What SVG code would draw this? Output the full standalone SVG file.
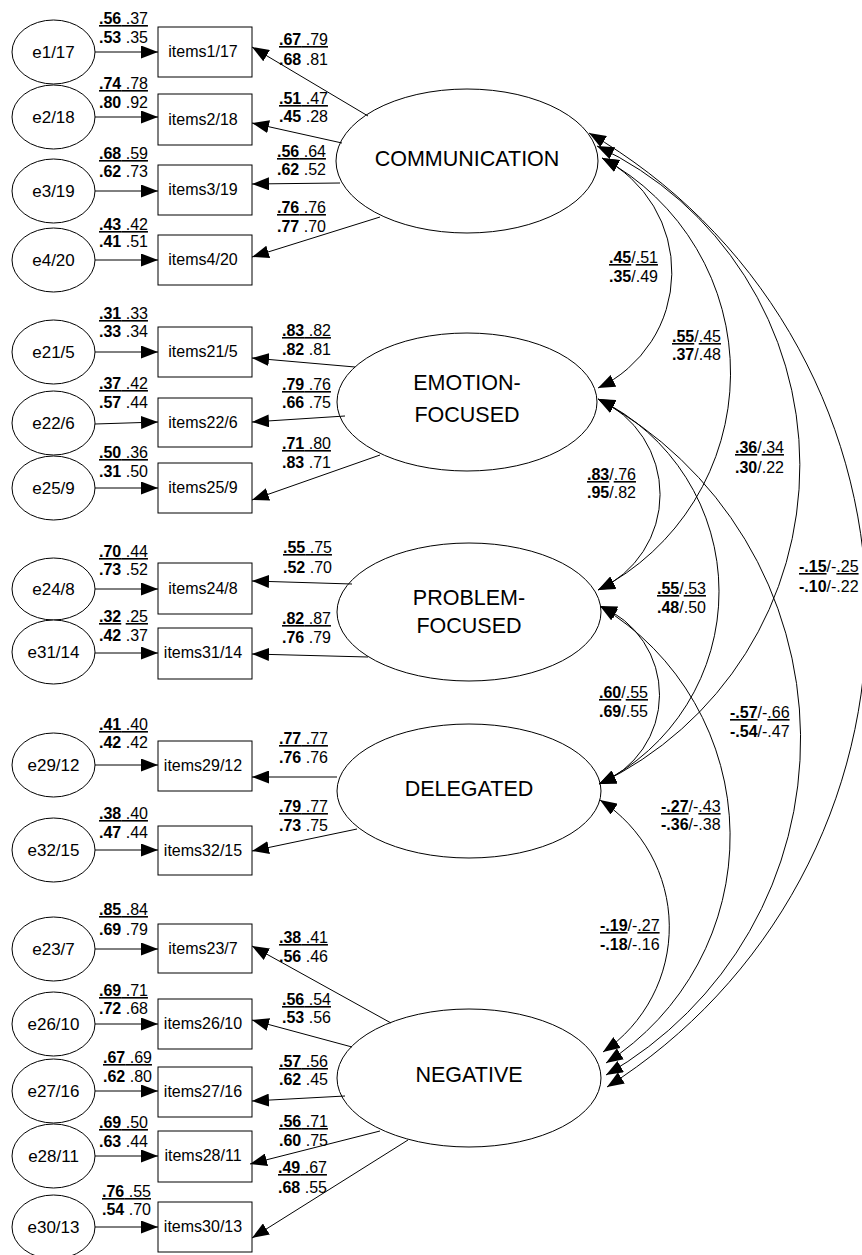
<svg xmlns="http://www.w3.org/2000/svg" width="862" height="1255" viewBox="0 0 862 1255">
<style>
.nd ellipse,.nd rect{fill:#fff;stroke:#000;stroke-width:1}
text{font-family:"Liberation Sans",Arial,sans-serif;fill:#000}
.lat{font-size:21.5px;text-anchor:middle}
.err{font-size:17px;text-anchor:middle}
.itm{font-size:16px;text-anchor:middle}
.c{font-size:16px}
.b{font-weight:bold}
.u{text-decoration:underline}
.ln{fill:none;stroke:#000;stroke-width:1}
.ar{marker-end:url(#ah)}
.cv{marker-start:url(#ah2);marker-end:url(#ah2)}
</style>
<defs>
<marker id="ah" viewBox="0 0 17 13" refX="17" refY="6.5" markerWidth="17" markerHeight="13" markerUnits="userSpaceOnUse" orient="auto"><path d="M0,0 L17,6.5 L0,13 z" fill="#000"/></marker>
<marker id="ah2" viewBox="0 0 17 13" refX="17" refY="6.5" markerWidth="17" markerHeight="13" markerUnits="userSpaceOnUse" orient="auto-start-reverse"><path d="M0,0 L17,6.5 L0,13 z" fill="#000"/></marker>
</defs>

<!-- error nodes -->
<g id="e1" class="nd"><ellipse cx="53.5" cy="52" rx="41.5" ry="32"/><text class="err" x="53.5" y="58">e1/17</text></g>
<g id="e2" class="nd"><ellipse cx="53.5" cy="117" rx="41.5" ry="32"/><text class="err" x="53.5" y="123">e2/18</text></g>
<g id="e3" class="nd"><ellipse cx="53.5" cy="191" rx="41.5" ry="32"/><text class="err" x="53.5" y="197">e3/19</text></g>
<g id="e4" class="nd"><ellipse cx="53.5" cy="260" rx="41.5" ry="32"/><text class="err" x="53.5" y="266">e4/20</text></g>
<g id="e21" class="nd"><ellipse cx="53.5" cy="352" rx="41.5" ry="32"/><text class="err" x="53.5" y="358">e21/5</text></g>
<g id="e22" class="nd"><ellipse cx="53.5" cy="423" rx="41.5" ry="32"/><text class="err" x="53.5" y="429">e22/6</text></g>
<g id="e25" class="nd"><ellipse cx="53.5" cy="488" rx="41.5" ry="32"/><text class="err" x="53.5" y="494">e25/9</text></g>
<g id="e24" class="nd"><ellipse cx="53.5" cy="589" rx="41.5" ry="31"/><text class="err" x="53.5" y="595">e24/8</text></g>
<g id="e31" class="nd"><ellipse cx="53.5" cy="652" rx="41.5" ry="32"/><text class="err" x="53.5" y="658">e31/14</text></g>
<g id="e29" class="nd"><ellipse cx="53.5" cy="765" rx="41.5" ry="32"/><text class="err" x="53.5" y="771">e29/12</text></g>
<g id="e32" class="nd"><ellipse cx="53.5" cy="850" rx="41.5" ry="32"/><text class="err" x="53.5" y="856">e32/15</text></g>
<g id="e23" class="nd"><ellipse cx="53.5" cy="949" rx="41.5" ry="32"/><text class="err" x="53.5" y="955">e23/7</text></g>
<g id="e26" class="nd"><ellipse cx="53.5" cy="1024" rx="41.5" ry="32"/><text class="err" x="53.5" y="1030">e26/10</text></g>
<g id="e27" class="nd"><ellipse cx="53.5" cy="1091" rx="41.5" ry="32"/><text class="err" x="53.5" y="1097">e27/16</text></g>
<g id="e28" class="nd"><ellipse cx="53.5" cy="1156" rx="41.5" ry="32"/><text class="err" x="53.5" y="1162">e28/11</text></g>
<g id="e30" class="nd"><ellipse cx="53.5" cy="1227" rx="41.5" ry="32"/><text class="err" x="53.5" y="1233">e30/13</text></g>

<!-- item nodes -->
<g id="i1" class="nd"><rect x="158" y="27" width="94" height="50"/><text class="itm" x="203" y="57">items1/17</text></g>
<g id="i2" class="nd"><rect x="158" y="94" width="94" height="51"/><text class="itm" x="203" y="125">items2/18</text></g>
<g id="i3" class="nd"><rect x="158" y="165" width="94" height="50"/><text class="itm" x="203" y="195">items3/19</text></g>
<g id="i4" class="nd"><rect x="158" y="235" width="94" height="50"/><text class="itm" x="203" y="265">items4/20</text></g>
<g id="i21" class="nd"><rect x="158" y="327" width="94" height="50"/><text class="itm" x="203" y="357">items21/5</text></g>
<g id="i22" class="nd"><rect x="158" y="398" width="94" height="49"/><text class="itm" x="203" y="428">items22/6</text></g>
<g id="i25" class="nd"><rect x="158" y="463" width="94" height="50"/><text class="itm" x="203" y="493">items25/9</text></g>
<g id="i24" class="nd"><rect x="158" y="563" width="94" height="51"/><text class="itm" x="203" y="594">items24/8</text></g>
<g id="i31" class="nd"><rect x="158" y="628" width="94" height="51"/><text class="itm" x="203" y="658">items31/14</text></g>
<g id="i29" class="nd"><rect x="158" y="741" width="94" height="50"/><text class="itm" x="203" y="771">items29/12</text></g>
<g id="i32" class="nd"><rect x="158" y="826" width="94" height="49"/><text class="itm" x="203" y="856">items32/15</text></g>
<g id="i23" class="nd"><rect x="158" y="924" width="94" height="49"/><text class="itm" x="203" y="954">items23/7</text></g>
<g id="i26" class="nd"><rect x="158" y="999" width="94" height="50"/><text class="itm" x="203" y="1029">items26/10</text></g>
<g id="i27" class="nd"><rect x="158" y="1067" width="94" height="50"/><text class="itm" x="203" y="1097">items27/16</text></g>
<g id="i28" class="nd"><rect x="158" y="1131" width="94" height="51"/><text class="itm" x="203" y="1161">items28/11</text></g>
<g id="i30" class="nd"><rect x="158" y="1202" width="94" height="50"/><text class="itm" x="203" y="1232">items30/13</text></g>

<!-- latent nodes -->
<g id="comm" class="nd"><ellipse cx="467" cy="161" rx="131" ry="72"/><text class="lat" x="467" y="166">COMMUNICATION</text></g>
<g id="emo" class="nd"><ellipse cx="467" cy="402" rx="130" ry="69"/><text class="lat" x="467" y="390">EMOTION-</text><text class="lat" x="467" y="422">FOCUSED</text></g>
<g id="prob" class="nd"><ellipse cx="469" cy="612" rx="132" ry="69"/><text class="lat" x="469" y="605">PROBLEM-</text><text class="lat" x="469" y="633">FOCUSED</text></g>
<g id="del" class="nd"><ellipse cx="469" cy="791" rx="132" ry="67"/><text class="lat" x="469" y="796">DELEGATED</text></g>
<g id="neg" class="nd"><ellipse cx="469" cy="1078" rx="132" ry="69"/><text class="lat" x="469" y="1082">NEGATIVE</text></g>

<!-- connectors -->
<g id="connectors" class="ln">
<path class="ar" d="M95 52H158"/>
<path class="ar" d="M95 117H158"/>
<path class="ar" d="M95 191H158"/>
<path class="ar" d="M95 260H158"/>
<path class="ar" d="M95 352H158"/>
<path class="ar" d="M95 424L158 422"/>
<path class="ar" d="M95 488H158"/>
<path class="ar" d="M95 589H158"/>
<path class="ar" d="M95 653H158"/>
<path class="ar" d="M95 765H158"/>
<path class="ar" d="M95 850H158"/>
<path class="ar" d="M95 949H158"/>
<path class="ar" d="M95 1024H158"/>
<path class="ar" d="M95 1091H158"/>
<path class="ar" d="M95 1156H158"/>
<path class="ar" d="M95 1227H158"/>

<path class="ar" d="M368 116L252 47"/>
<path class="ar" d="M342 143L252 123"/>
<path class="ar" d="M340 183L252 184"/>
<path class="ar" d="M380 217L252 257"/>
<path class="ar" d="M355 367L252 358"/>
<path class="ar" d="M345 416L252 422"/>
<path class="ar" d="M380 455L252 500"/>
<path class="ar" d="M352 584L252 581"/>
<path class="ar" d="M368 657L252 654"/>
<path class="ar" d="M337 777L252 777"/>
<path class="ar" d="M357 829L252 851"/>
<path class="ar" d="M391 1023L252 946"/>
<path class="ar" d="M352 1047L252 1020"/>
<path class="ar" d="M345 1096L252 1101"/>
<path class="ar" d="M380 1131L250 1164"/>
<path class="ar" d="M408 1140L252 1238"/>

<path class="cv" d="M602 158A128 128 0 0 1 598 388"/>
<path class="cv" d="M602 158A244 244 0 0 1 598 590"/>
<path class="cv" d="M597 146A353 353 0 0 1 599 784"/>
<path class="cv" d="M589 133A558 558 0 0 1 607 1087"/>
<path class="cv" d="M598 399A104.5 104.5 0 0 1 598 590"/>
<path class="cv" d="M598 399A214 214 0 0 1 599 784"/>
<path class="cv" d="M598 399A387 387 0 0 1 606 1075"/>
<path class="cv" d="M600 606A96 96 0 0 1 599 784"/>
<path class="cv" d="M600 606A269 269 0 0 1 606 1063"/>
<path class="cv" d="M600 800A151 151 0 0 1 603 1052"/>
</g>

<!-- coefficient labels -->
<g id="labels" class="c">
<text x="99" y="24" class="u"><tspan class="b">.56</tspan> .37</text><text x="99" y="43"><tspan class="b">.53</tspan> .35</text>
<text x="99" y="89" class="u"><tspan class="b">.74</tspan> .78</text><text x="99" y="108"><tspan class="b">.80</tspan> .92</text>
<text x="99" y="159" class="u"><tspan class="b">.68</tspan> .59</text><text x="99" y="177"><tspan class="b">.62</tspan> .73</text>
<text x="99" y="230" class="u"><tspan class="b">.43</tspan> .42</text><text x="99" y="247"><tspan class="b">.41</tspan> .51</text>
<text x="99" y="319" class="u"><tspan class="b">.31</tspan> .33</text><text x="99" y="337"><tspan class="b">.33</tspan> .34</text>
<text x="99" y="389" class="u"><tspan class="b">.37</tspan> .42</text><text x="99" y="408"><tspan class="b">.57</tspan> .44</text>
<text x="99" y="458" class="u"><tspan class="b">.50</tspan> .36</text><text x="99" y="477"><tspan class="b">.31</tspan> .50</text>
<text x="99" y="557" class="u"><tspan class="b">.70</tspan> .44</text><text x="99" y="575"><tspan class="b">.73</tspan> .52</text>
<text x="99" y="622"><tspan class="b u">.32</tspan> <tspan class="u">.25</tspan></text><text x="99" y="641"><tspan class="b">.42</tspan> .37</text>
<text x="99" y="730" class="u"><tspan class="b">.41</tspan> .40</text><text x="99" y="748"><tspan class="b">.42</tspan> .42</text>
<text x="99" y="819" class="u"><tspan class="b">.38</tspan> .40</text><text x="99" y="838"><tspan class="b">.47</tspan> .44</text>
<text x="99" y="915" class="u"><tspan class="b">.85</tspan> .84</text><text x="99" y="935"><tspan class="b">.69</tspan> .79</text>
<text x="99" y="996" class="u"><tspan class="b">.69</tspan> .71</text><text x="99" y="1014"><tspan class="b">.72</tspan> .68</text>
<text x="103" y="1063" class="u"><tspan class="b">.67</tspan> .69</text><text x="103" y="1082"><tspan class="b">.62</tspan> .80</text>
<text x="99" y="1128" class="u"><tspan class="b">.69</tspan> .50</text><text x="99" y="1147"><tspan class="b">.63</tspan> .44</text>
<text x="102" y="1197" class="u"><tspan class="b">.76</tspan> .55</text><text x="102" y="1215"><tspan class="b">.54</tspan> .70</text>

<text x="279" y="45" class="u"><tspan class="b">.67</tspan> .79</text><text x="279" y="65"><tspan class="b">.68</tspan> .81</text>
<text x="279" y="104" class="u"><tspan class="b">.51</tspan> .47</text><text x="279" y="122"><tspan class="b">.45</tspan> .28</text>
<text x="277" y="157" class="u"><tspan class="b">.56</tspan> .64</text><text x="277" y="175"><tspan class="b">.62</tspan> .52</text>
<text x="277" y="213" class="u"><tspan class="b">.76</tspan> .76</text><text x="277" y="232"><tspan class="b">.77</tspan> .70</text>
<text x="282" y="336" class="u"><tspan class="b">.83</tspan> .82</text><text x="282" y="355"><tspan class="b">.82</tspan> .81</text>
<text x="282" y="390" class="u"><tspan class="b">.79</tspan> .76</text><text x="282" y="408"><tspan class="b">.66</tspan> .75</text>
<text x="282" y="449" class="u"><tspan class="b">.71</tspan> .80</text><text x="282" y="468"><tspan class="b">.83</tspan> .71</text>
<text x="283" y="553" class="u"><tspan class="b">.55</tspan> .75</text><text x="283" y="573"><tspan class="b">.52</tspan> .70</text>
<text x="282" y="624" class="u"><tspan class="b">.82</tspan> .87</text><text x="282" y="643"><tspan class="b">.76</tspan> .79</text>
<text x="279" y="744" class="u"><tspan class="b">.77</tspan> .77</text><text x="279" y="763"><tspan class="b">.76</tspan> .76</text>
<text x="279" y="812" class="u"><tspan class="b">.79</tspan> .77</text><text x="279" y="831"><tspan class="b">.73</tspan> .75</text>
<text x="279" y="943" class="u"><tspan class="b">.38</tspan> .41</text><text x="279" y="962"><tspan class="b">.56</tspan> .46</text>
<text x="282" y="1005" class="u"><tspan class="b">.56</tspan> .54</text><text x="282" y="1023"><tspan class="b">.53</tspan> .56</text>
<text x="279" y="1067" class="u"><tspan class="b">.57</tspan> .56</text><text x="279" y="1085"><tspan class="b">.62</tspan> .45</text>
<text x="279" y="1127" class="u"><tspan class="b">.56</tspan> .71</text><text x="279" y="1146"><tspan class="b">.60</tspan> .75</text>
<text x="278" y="1173" class="u"><tspan class="b">.49</tspan> .67</text><text x="278" y="1193"><tspan class="b">.68</tspan> .55</text>

<text x="609" y="263"><tspan class="b u">.45</tspan>/<tspan class="u">.51</tspan></text><text x="609" y="282"><tspan class="b">.35</tspan>/.49</text>
<text x="672" y="342"><tspan class="b u">.55</tspan>/<tspan class="u">.45</tspan></text><text x="672" y="360"><tspan class="b">.37</tspan>/.48</text>
<text x="735" y="453"><tspan class="b u">.36</tspan>/<tspan class="u">.34</tspan></text><text x="735" y="473"><tspan class="b">.30</tspan>/.22</text>
<text x="587" y="480"><tspan class="b u">.83</tspan>/<tspan class="u">.76</tspan></text><text x="587" y="498"><tspan class="b">.95</tspan>/.82</text>
<text x="799" y="572"><tspan class="b u">-.15</tspan>/-<tspan class="u">.25</tspan></text><text x="799" y="592"><tspan class="b">-.10</tspan>/-.22</text>
<text x="657" y="594"><tspan class="b u">.55</tspan>/<tspan class="u">.53</tspan></text><text x="657" y="613"><tspan class="b">.48</tspan>/.50</text>
<text x="599" y="698"><tspan class="b u">.60</tspan>/<tspan class="u">.55</tspan></text><text x="599" y="717"><tspan class="b">.69</tspan>/.55</text>
<text x="730" y="718"><tspan class="b u">-.57</tspan>/-<tspan class="u">.66</tspan></text><text x="730" y="737"><tspan class="b">-.54</tspan>/-.47</text>
<text x="661" y="812"><tspan class="b u">-.27</tspan>/-<tspan class="u">.43</tspan></text><text x="661" y="830"><tspan class="b">-.36</tspan>/-.38</text>
<text x="600" y="931"><tspan class="b u">-.19</tspan>/-<tspan class="u">.27</tspan></text><text x="600" y="950"><tspan class="b">-.18</tspan>/-.16</text>
</g>
</svg>
